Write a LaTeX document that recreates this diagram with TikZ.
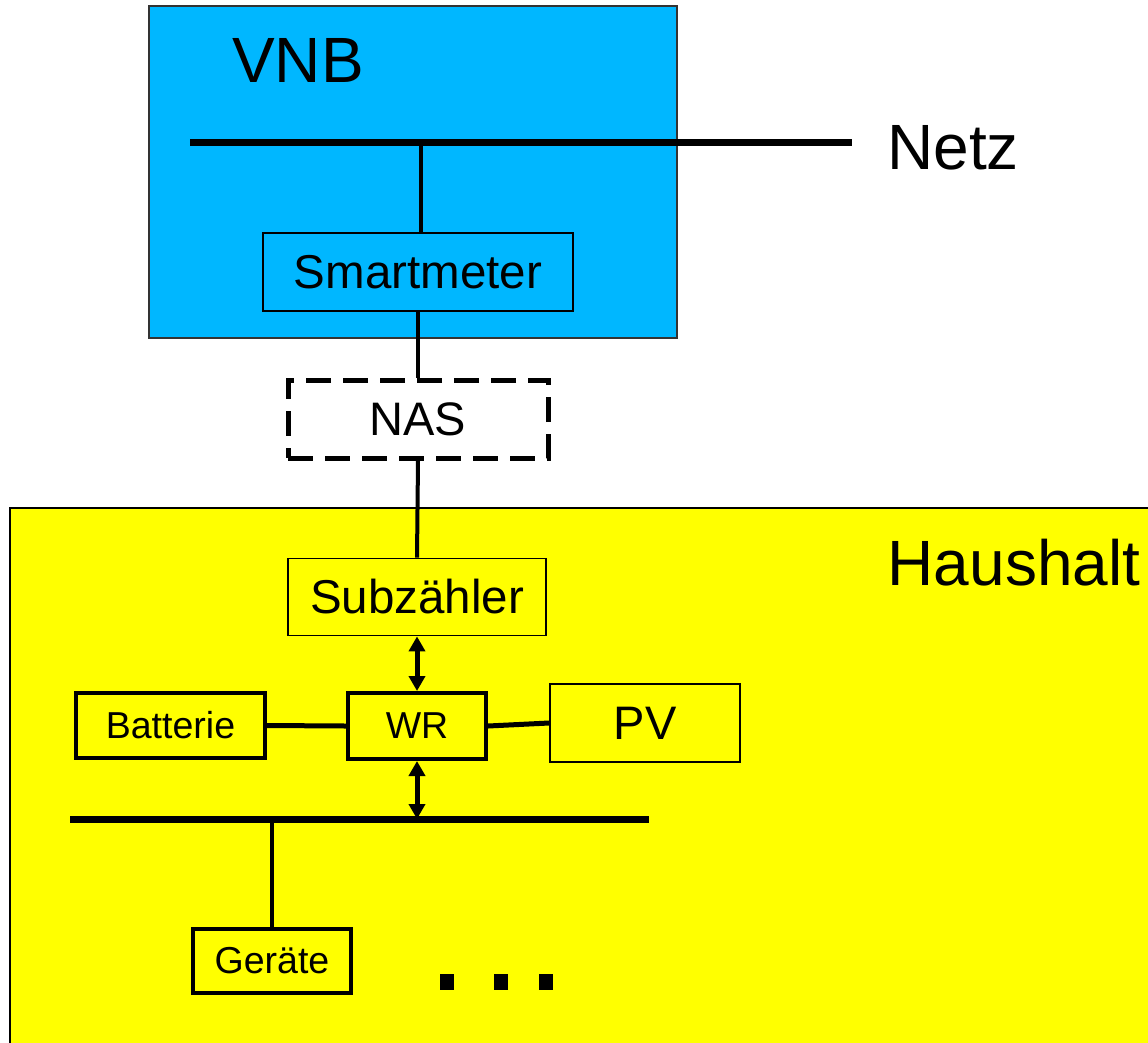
\documentclass[tikz,border=0pt]{standalone}
\usepackage{fontspec}
\setmainfont{Liberation Sans}
\usetikzlibrary{arrows.meta}
\definecolor{vnbblue}{RGB}{0,183,255}
\definecolor{hhyellow}{RGB}{255,255,0}
\tikzset{
  bigtxt/.style={font=\fontsize{64}{70}\selectfont, inner sep=0},
  thinbox/.style={draw=black, line width=1.8pt, inner sep=0, font=\fontsize{47.5}{52}\selectfont},
  thickbox/.style={draw=black, line width=4pt, inner sep=0, font=\fontsize{37.5}{42}\selectfont},
  busline/.style={line width=7pt},
  wire/.style={line width=4pt},
  dblarrow/.style={line width=5pt, {Triangle[width=16pt,length=15pt]}-{Triangle[width=16pt,length=15pt]}},
  dotsq/.style={fill=black, minimum width=14pt, minimum height=16pt, inner sep=0}
}
\begin{document}
\begin{tikzpicture}[x=1pt,y=-1pt]
\useasboundingbox (0,0) rectangle (1148,1042);
\fill[white] (0,0) rectangle (1148,1042);
% VNB area
\draw[fill=vnbblue, draw=black!80, line width=1.5pt] (149,6) rectangle (677,338);
\node[bigtxt] (vnb) at (298,60) {VNB};
% Haushalt area
\draw[fill=hhyellow, draw=black, line width=2pt] (10,508) rectangle (1160,1060);
\node[bigtxt] (haushalt) at (1014,563) {Haushalt};
% Netz bus
\coordinate (netzL) at (190,142);
\coordinate (netzR) at (852,142);
\coordinate (netzJ) at (421,142);
\draw[busline] (netzL) -- (netzR);
\node[bigtxt] (netz) at (953,148) {Netz};
% Nodes
\node[thinbox, minimum width=310pt, minimum height=78pt] (sm) at (418,272) {\raisebox{-2pt}{Smartmeter}};
\node[draw=black, line width=5pt, dash pattern=on 25pt off 12pt, inner sep=0,
      minimum width=260pt, minimum height=78pt, font=\fontsize{47}{52}\selectfont] (nas) at (418,419) {\raisebox{-3pt}{NAS}};
\node[thinbox, minimum width=258pt, minimum height=77pt] (sub) at (417,597) {\raisebox{-2pt}{Subzähler}};
\node[thickbox, minimum width=138pt, minimum height=66pt] (wr) at (417,726) {WR};
\node[thickbox, minimum width=189pt, minimum height=65pt] (bat) at (170.5,725.5) {Batterie};
\node[thinbox, minimum width=190pt, minimum height=78pt, font=\fontsize{47}{52}\selectfont] (pv) at (645,723) {PV};
\node[thickbox, minimum width=158pt, minimum height=64pt] (ger) at (272,961) {\raisebox{-2pt}{Geräte}};
% lower bus
\coordinate (hbL) at (70,819);
\coordinate (hbR) at (649,819);
\coordinate (hbJ) at (272,819);
\coordinate (hbW) at (417,819);
\draw[busline] (hbL) -- (hbR);
% connectors
\draw[wire] (netzJ) -- (netzJ |- sm.north);
\draw[wire] (sm.south) -- (nas.north);
\draw[wire] (nas.south) -- (sub.north);
\draw[dblarrow] (sub.south) -- (wr.north);
\draw[dblarrow] (wr.south) -- (hbW);
\draw[line width=5pt] (bat.east) -- (wr.west);
\draw[line width=5pt] (wr.east) -- (pv.west);
\draw[wire] (hbJ) -- (ger.north);
% dots
\node[dotsq] (d1) at (447,982) {};
\node[dotsq] (d2) at (501,982) {};
\node[dotsq] (d3) at (546,982) {};
\end{tikzpicture}
\end{document}
